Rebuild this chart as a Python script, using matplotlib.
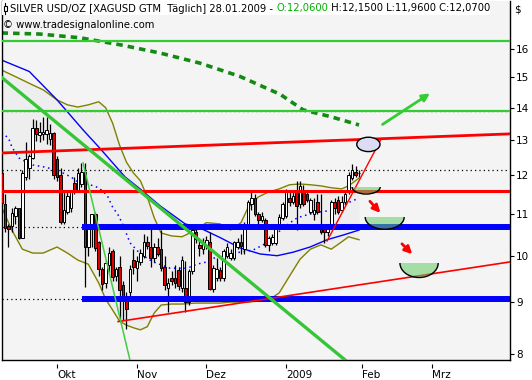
import numpy as np
import matplotlib.pyplot as plt
from matplotlib.patches import Rectangle, Ellipse
from matplotlib.lines import Line2D
from matplotlib.text import Annotation
from matplotlib.ticker import NullLocator, NullFormatter

# trading-day index, 0 = 1 Oct 2008
day = list(range(-16, 88))
opens = [12.07, 11.25, 10.70, 10.70, 10.95, 11.13, 10.42, 11.95, 12.20, 12.50, 13.35, 13.15, 13.20, 13.20, 13.05, 13.20,
         12.45, 12.02, 10.80, 11.05, 11.15, 11.78, 11.60, 11.78, 12.10, 10.20, 10.70, 11.00, 10.30, 9.70, 9.40, 9.80,
         10.10, 9.55, 9.75, 9.35, 9.05, 9.20, 9.90, 9.72, 9.85, 10.00, 10.30, 10.20, 9.95, 10.20, 10.15, 9.75,
         9.30, 9.50, 9.50, 9.67, 9.30, 9.28, 9.00, 9.65, 10.55, 10.25, 10.15, 10.25, 10.30, 9.28, 9.50, 9.68,
         9.50, 10.00, 9.95, 9.95, 10.20, 10.30, 10.15, 10.75, 11.25, 11.40, 11.00, 10.85, 10.85, 10.25, 10.30, 10.30,
         10.75, 10.90, 10.95, 11.40, 11.30, 11.60, 11.25, 11.60, 11.50, 11.05, 11.00, 11.30, 10.75, 10.65, 10.55, 10.70,
         11.30, 11.35, 11.10, 11.30, 11.58, 11.93, 12.10, 12.06]
highs = [12.15, 11.50, 10.74, 11.15, 11.20, 11.15, 12.15, 12.95, 12.60, 13.64, 13.60, 13.56, 13.70, 13.70, 13.50, 13.25,
         12.55, 12.20, 11.55, 11.60, 11.60, 11.95, 12.20, 12.35, 12.35, 10.75, 11.00, 11.05, 10.35, 9.75, 9.90, 10.20,
         10.15, 9.75, 10.00, 9.45, 9.20, 9.80, 10.15, 10.00, 10.15, 10.50, 10.45, 10.72, 10.30, 10.40, 10.60, 10.00,
         9.50, 9.65, 9.80, 9.75, 10.00, 9.88, 9.70, 10.75, 10.72, 10.40, 10.40, 10.45, 10.55, 9.80, 9.95, 9.75,
         10.15, 10.30, 10.15, 10.35, 10.40, 10.50, 10.80, 11.35, 11.55, 11.50, 11.05, 11.05, 10.90, 10.45, 10.50, 10.70,
         11.00, 11.30, 11.65, 11.55, 11.55, 11.85, 11.85, 11.75, 11.60, 11.40, 11.40, 11.50, 11.50, 10.70, 10.75, 11.35,
         11.40, 11.45, 11.45, 11.60, 12.10, 12.33, 12.25, 12.15]
lows = [11.20, 10.55, 10.21, 10.55, 10.75, 10.38, 10.40, 11.88, 11.90, 12.45, 12.97, 12.95, 13.00, 12.90, 12.85, 11.90,
        11.85, 10.75, 10.75, 11.00, 11.05, 11.50, 11.55, 11.70, 9.32, 10.00, 10.20, 10.10, 9.55, 9.25, 9.30, 9.60,
        9.45, 9.45, 8.64, 8.65, 8.47, 9.10, 9.60, 9.45, 9.80, 9.95, 10.15, 9.75, 9.85, 10.00, 9.65, 9.25,
        8.80, 9.35, 9.30, 9.25, 9.20, 8.80, 8.95, 9.60, 10.30, 10.00, 10.05, 10.15, 9.25, 9.20, 9.45, 9.45,
        9.45, 9.95, 9.90, 9.90, 10.15, 10.05, 10.05, 10.70, 11.10, 10.95, 10.70, 10.80, 10.20, 10.10, 10.25, 10.25,
        10.70, 10.85, 10.90, 11.20, 11.25, 10.60, 11.15, 11.20, 11.30, 11.00, 10.85, 11.00, 10.50, 10.30, 10.45, 10.65,
        11.00, 11.00, 11.05, 11.25, 11.50, 11.88, 11.95, 11.96]
closes = [11.28, 10.66, 10.62, 11.02, 11.15, 10.42, 12.07, 12.45, 12.55, 13.35, 13.18, 13.25, 13.24, 13.30, 13.20, 12.02,
          11.95, 10.80, 11.10, 11.45, 11.55, 11.55, 12.07, 12.10, 10.20, 10.65, 10.98, 10.18, 9.70, 9.37, 9.82, 10.05,
          9.52, 9.70, 9.25, 9.05, 8.85, 9.70, 9.75, 9.88, 10.05, 10.30, 10.22, 9.95, 10.20, 10.05, 9.72, 9.35,
          9.40, 9.45, 9.40, 9.33, 9.90, 9.00, 9.65, 10.60, 10.38, 10.18, 10.30, 10.37, 9.28, 9.72, 9.70, 9.50,
          10.10, 10.20, 10.05, 10.30, 10.30, 10.22, 10.75, 11.30, 11.40, 11.00, 10.85, 10.95, 10.25, 10.40, 10.42, 10.65,
          10.92, 11.25, 11.55, 11.30, 11.45, 11.20, 11.70, 11.25, 11.35, 11.35, 11.10, 11.05, 10.55, 10.55, 10.62, 11.30,
          11.15, 11.05, 11.30, 11.50, 12.02, 12.15, 12.02, 12.07]

# Bollinger bands (olive) and their middle line (blue dotted)
bb_day = [-16, -13, -10, -7, -4, 0, 3, 6, 9, 12, 14, 16, 18, 20, 22, 24, 26, 28, 30, 33, 36, 40, 43, 47, 50,
          53, 55, 58, 61, 64, 67, 70, 73, 76, 79, 82, 84, 87]
bb_upper = [15.25, 15.08, 14.91, 14.74, 14.58, 14.25, 14.09, 14.02, 14.09, 14.19, 14.00, 13.52, 12.86, 12.37,
            12.07, 11.86, 11.43, 10.90, 10.53, 10.46, 10.44, 10.60, 10.78, 10.75, 10.60, 10.78, 11.15, 11.43,
            11.56, 11.64, 11.75, 11.77, 11.75, 11.72, 11.67, 11.64, 11.72, 11.93]
bb_lower = [11.17, 10.60, 10.15, 10.06, 10.06, 10.20, 10.06, 9.90, 9.81, 9.40, 9.06, 8.84, 8.62, 8.54, 8.49,
            8.45, 8.51, 8.78, 8.94, 8.96, 8.96, 8.98, 8.98, 8.98, 9.00, 9.00, 9.00, 9.02, 9.04, 9.19, 9.55, 9.92,
            10.15, 10.25, 10.15, 10.32, 10.44, 10.37]
mid_day = [-16, -14, -13, -11, -9, -7, -4, 0, 4, 6, 9.5, 12, 14.4, 16, 17.6, 19, 21, 24, 27.7, 32.6, 37.5, 40.3,
           43.2, 47, 52.7, 56.5, 59.4, 62.2, 65, 69.2, 73.8, 77.8, 81.6, 84.4, 87]
mid_val = [13.22, 13.07, 12.80, 12.49, 12.38, 12.29, 12.24, 12.15, 11.96, 11.83, 11.75, 11.67, 11.48, 11.17,
           10.97, 10.73, 10.30, 10.04, 9.86, 9.72, 9.72, 9.81, 9.86, 10.02, 10.08, 10.13, 10.25, 10.42, 10.65,
           10.90, 11.02, 11.07, 11.17, 11.30, 11.40]

# moving averages
ma_day = [-16, -8, 0, 7.5, 12.4, 19.6, 23.9, 29.7, 36.9, 41.2, 47, 52.7, 58.5, 63.4, 68, 72.9, 77.8, 82.4, 87]
ma_val = [15.6, 15.2, 14.25, 13.31, 12.76, 11.96, 11.64, 11.20, 10.75, 10.65, 10.42, 10.18, 10.04, 10.00, 10.08,
          10.20, 10.37, 10.48, 10.60]
ma200_day = [-16, -5, 6.6, 18.2, 29.7, 41.2, 52.7, 64.3, 70.9, 78.7, 87]
ma200_val = [16.59, 16.55, 16.41, 16.15, 15.85, 15.49, 15.03, 14.43, 13.93, 13.72, 13.46]

# drawn lines: (start day, start price, end day, end price)
green_trend = (-16, 15.0, 83, 7.89)
green_steep = (7.5, 12.35, 21.0, 7.89)
red_channel = (-16, 12.63, 130.5, 13.19)
red_support = (17.6, 8.61, 130.5, 9.86)
red_steep = (77.8, 10.34, 93.4, 13.04)
green_levels = [16.28, 13.88]
red_level = 11.58
blue_levels = [10.68, 9.06]
blue_start = 7.2
dotted_levels = [13.88, 12.15, 10.68, 9.06]

month_pos = [0, 23, 43, 66, 88, 108]
month_lbl = ['Okt', 'Nov', 'Dez', '2009', 'Feb', 'Mrz']
price_ticks = [8, 9, 10, 11, 12, 13, 14, 15, 16]

W, H = 532, 380
fig = plt.figure(figsize=(W / 100, H / 100), dpi=100)
ax = fig.add_axes([1.5 / W, 20 / H, 508.5 / W, 359 / H])
ax.set_facecolor('#f4f4f4')
ax.set_yscale('log')
ax.set_xlim(-16.0, 130.5)
ax.set_ylim(7.89, 17.84)

# bollinger area + bands
ax.fill_between(bb_day, bb_lower, bb_upper, color='#eeeeee', lw=0, zorder=0.5)
ax.plot(bb_day, bb_upper, color='#808000', lw=1, zorder=2)
ax.plot(bb_day, bb_lower, color='#808000', lw=1, zorder=2)
ax.plot(mid_day, mid_val, color='#0000ff', lw=1.1, ls=(0, (1, 2.4)), zorder=2)
ax.plot(ma_day, ma_val, color='#0000ff', lw=1, zorder=2)
ax.plot(ma200_day, ma200_val, color='#138a13', lw=2.6, ls=(0, (1.8, 1.4)), zorder=2)

for lv in dotted_levels:
    ax.axhline(lv, color='black', lw=0.9, ls=(0, (1, 2.5)), zorder=1)

# candles
o = np.array(opens)
c = np.array(closes)
up = c >= o
ax.vlines(day, lows, highs, color='black', lw=0.9, zorder=3)
ax.bar(day, np.abs(c - o) + 0.005, bottom=np.minimum(o, c), width=0.75,
       color=np.where(up, 'white', '#e00000'), edgecolor='black', lw=0.7, zorder=3.5)

# trend / level lines
for lv in green_levels:
    ax.axhline(lv, color='#33cc33', lw=1.6, zorder=4)
ax.axhline(red_level, color='#ff0000', lw=2.2, zorder=4)
for lv in blue_levels:
    ax.plot([blue_start, 130.5], [lv, lv], color='#0000ff', lw=4.3, solid_capstyle='butt', zorder=4)
ax.plot(green_trend[::2], green_trend[1::2], color='#36c536', lw=2.4, zorder=4.5)
ax.plot(green_steep[::2], green_steep[1::2], color='#44cc44', lw=1.1, zorder=4.5)
ax.plot(red_channel[::2], red_channel[1::2], color='#ff0000', lw=2, zorder=4)
ax.plot(red_support[::2], red_support[1::2], color='#ff0000', lw=1.2, zorder=4)
ax.plot(red_steep[::2], red_steep[1::2], color='#ff0000', lw=1, zorder=4)

# arrows
ax.annotate('', xy=(108.1, 14.51), xytext=(93.1, 13.43),
            arrowprops=dict(arrowstyle='-|>', color='#33cc33', lw=2, mutation_scale=11), zorder=6)
ax.annotate('', xy=(93.7, 10.97), xytext=(89.6, 11.37),
            arrowprops=dict(arrowstyle='-|>', color='#ff0000', lw=2, mutation_scale=11), zorder=6)
ax.annotate('', xy=(102.9, 9.99), xytext=(98.8, 10.32),
            arrowprops=dict(arrowstyle='-|>', color='#ff0000', lw=2, mutation_scale=11), zorder=6)

# target ellipse and bowls
ax.add_patch(Ellipse((89.7, 12.88), 6.7, 0.42, fc='#dcdcf4', ec='black', lw=1, zorder=7))
bowls = [(89.05, 11.69, 8.1, 0.186), (94.4, 10.91, 11.2, 0.29), (104.3, 9.83, 11.0, 0.313)]
for bx, by, bw, bd in bowls:
    e = Ellipse((bx, by), bw, 2 * bd, fc=(0.39, 0.80, 0.39, 0.55), ec='black', lw=1, zorder=7)
    ax.add_patch(e)
    clip = Rectangle((bx - bw, by - 3 * bd), 2 * bw, 3 * bd, transform=ax.transData)
    e.set_clip_path(clip)

# axes styling
for s in ['left', 'right', 'bottom']:
    ax.spines[s].set_color('black')
    ax.spines[s].set_linewidth(1)
ax.spines['top'].set_visible(False)
ax.yaxis.tick_right()
ax.set_yticks(price_ticks)
ax.set_yticklabels([str(v) for v in price_ticks])
ax.yaxis.set_minor_locator(NullLocator())
ax.yaxis.set_minor_formatter(NullFormatter())
ax.tick_params(axis='y', length=3, width=0.8, pad=1.5, labelsize=7.5)
ax.set_xticks(month_pos)
ax.set_xticklabels(month_lbl)
ax.tick_params(axis='x', length=0, pad=7.5, labelsize=7.5)
for lbl in ax.get_xticklabels():
    lbl.set_ha('left')
ax.vlines(month_pos, -0.023, -0.012, color='black', lw=0.8, transform=ax.get_xaxis_transform(), clip_on=False)

# header
fig.add_artist(Rectangle((2 / W, 1 - 15 / H), 488 / W, 14 / H, transform=fig.transFigure,
                         fc='white', ec='none', zorder=5))
fig.add_artist(Line2D([5 / W, 5 / W], [1 - 3 / H, 1 - 14 / H], transform=fig.transFigure,
                      color='black', lw=0.8, zorder=6))
fig.add_artist(Rectangle((3.5 / W, 1 - 11 / H), 3 / W, 5 / H, transform=fig.transFigure,
                         fc='white', ec='black', lw=0.8, zorder=6))
t1 = fig.text(10 / W, 1 - 8.5 / H, 'SILVER USD/OZ [XAGUSD GTM  Täglich] 28.01.2009 - ',
              fontsize=7.2, va='center', ha='left', zorder=6)
t2 = Annotation('O:12,0600', xy=(1, 0), xycoords=t1, va='bottom', ha='left', fontsize=7.2,
                color='#00b000', zorder=6)
fig.add_artist(t2)
t3 = Annotation(' H:12,1500 L:11,9600 C:12,0700', xy=(1, 0), xycoords=t2, va='bottom', ha='left',
                fontsize=7.2, zorder=6)
fig.add_artist(t3)
fig.text(3 / W, 1 - 25 / H, '© www.tradesignalonline.com', fontsize=7.2, va='center', ha='left', zorder=6)
fig.text(514 / W, 1 - 9 / H, '$', fontsize=7.5, va='center', ha='left')

fig.savefig('out.png', dpi=100, facecolor='white')
